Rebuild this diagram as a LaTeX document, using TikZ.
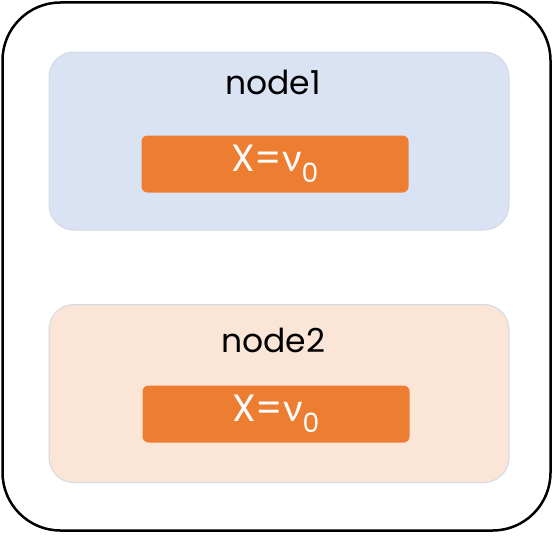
\documentclass[tikz,border=0pt]{standalone}
\usepackage{fontspec}
\setmainfont{Poppins}
\newfontfamily\greekfont{Lato}
\usepackage{tikz}
\definecolor{bluefill}{HTML}{DAE3F3}
\definecolor{peachfill}{HTML}{FBE5D6}
\definecolor{boxline}{HTML}{D3DAE3}
\definecolor{varorange}{HTML}{ED7D31}

\begin{document}
\begin{tikzpicture}[x=1pt,y=-1pt,
		group/.style={draw=boxline, line width=1pt, rounded corners=25pt, minimum width=460pt, minimum height=178pt},
		var/.style={fill=varorange, rounded corners=6pt, minimum width=267pt, minimum height=57pt, text=white, font=\fontsize{38}{42}\selectfont},
		title/.style={font=\fontsize{33}{37}\selectfont}]
		\useasboundingbox (0,0) rectangle (553,535);
		\node[draw, line width=2.5pt, rounded corners=58pt, minimum width=548pt, minimum height=528pt] (outer) at (276.5,266.5) {};
		% the two groups
		\node[group, fill=bluefill] (group1) at (279,141) {};
		\node[group, fill=peachfill] (group2) at (279,393.5) {};
		\node[title] (name1) at (273,82) {node1};
		\node[title] (name2) at (273,340) {node2};
		\node[var] (var1) at (275,164) {X={\greekfont ν}\textsubscript{0}};
		\node[var] (var2) at (276,414) {X={\greekfont ν}\textsubscript{0}};
		\end{tikzpicture}
\end{document}
